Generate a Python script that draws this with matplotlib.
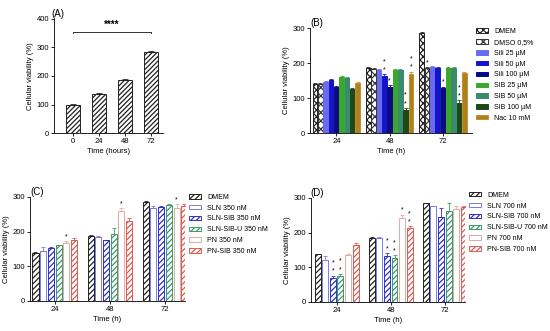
import numpy as np
import matplotlib.pyplot as plt

plt.rcParams['font.family'] = ['Liberation Sans', 'DejaVu Sans']
plt.rcParams['hatch.linewidth'] = 0.9
plt.rcParams['axes.linewidth'] = 0.6

# ---- data ----
a_times = ['0', '24', '48', '72']
a_vals = [100, 138, 187, 283]
a_err = [2, 2, 3, 3]

groups = ['24', '48', '72']

b_labels = ['DMEM', 'DMSO 0,5%', 'Sili 25 µM', 'Sili 50 µM', 'Sili 100 µM',
            'SIB 25 µM', 'SIB 50 µM', 'SIB 100 µM', 'Nac 10 mM']
b_vals = [[139, 139, 147, 151, 132, 161, 158, 127, 142],
          [187, 184, 179, 162, 131, 180, 180, 67, 169],
          [285, 186, 190, 185, 128, 187, 186, 86, 172]]
b_err = [[3, 3, 3, 4, 3, 3, 3, 2, 5],
         [3, 3, 5, 6, 6, 4, 3, 5, 7],
         [3, 3, 3, 3, 5, 3, 3, 8, 3]]
b_stars = [[0, 0, 0, 0, 0, 0, 0, 0, 0],
           [0, 0, 0, 2, 1, 0, 0, 2, 2],
           [0, 1, 0, 0, 1, 0, 0, 2, 0]]

nano_labels_c = ['DMEM', 'SLN 350 nM', 'SLN-SIB 350 nM', 'SLN-SIB-U 350 nM',
                 'PN 350 nM', 'PN-SIB 350 nM']
c_vals = [[138, 143, 152, 160, 167, 176],
          [187, 184, 175, 193, 260, 230],
          [284, 268, 272, 276, 267, 274]]
c_err = [[2, 12, 3, 2, 5, 5],
         [3, 2, 2, 18, 7, 8],
         [3, 7, 3, 4, 12, 5]]
c_stars = [[0, 0, 0, 0, 1, 0],
           [0, 0, 0, 0, 1, 0],
           [0, 0, 0, 0, 1, 0]]

nano_labels_d = ['DMEM', 'SLN 700 nM', 'SLN-SIB 700 nM', 'SLN-SIB-U 700 nM',
                 'PN 700 nM', 'PN-SIB 700 nM']
d_vals = [[137, 122, 70, 75, 135, 163],
          [185, 183, 132, 128, 243, 214],
          [284, 276, 246, 262, 267, 275]]
d_err = [[2, 9, 6, 6, 4, 6],
         [3, 3, 9, 7, 9, 5],
         [2, 2, 25, 24, 10, 3]]
d_stars = [[0, 0, 2, 2, 0, 0],
           [0, 0, 2, 2, 1, 2],
           [0, 0, 0, 0, 0, 0]]

# ---- styles ----
b_styles = [dict(fc='white', ec='#222222', hatch='xxxxx'),
            dict(fc='white', ec='#333333', hatch='xxxx'),
            dict(fc='#6b6bf2', ec='#6b6bf2', hatch=None),
            dict(fc='#1414c8', ec='#1414c8', hatch=None),
            dict(fc='#0a0a82', ec='#0a0a82', hatch=None),
            dict(fc='#3aa82a', ec='#3aa82a', hatch=None),
            dict(fc='#3a8a6e', ec='#3a8a6e', hatch=None),
            dict(fc='#1c481a', ec='#1c481a', hatch=None),
            dict(fc='#a8841e', ec='#d08a30', hatch=None)]

nano_styles = [dict(fc='white', ec='#222222', hatch='//////'),
               dict(fc='white', ec='#7a7ae6', hatch=None),
               dict(fc='white', ec='#3030c8', hatch='//////'),
               dict(fc='white', ec='#3a9a6a', hatch='//////'),
               dict(fc='white', ec='#e2aaa0', hatch=None),
               dict(fc='white', ec='#e05a50', hatch='//////')]

fig = plt.figure(figsize=(5.5, 3.31), dpi=100)
fs = 5.5
leg_kw = dict(loc='upper left', frameon=False, fontsize=5,
              handlelength=1.7, handleheight=0.6, labelspacing=0.55,
              borderaxespad=0.2, handletextpad=0.9)


def style_axes(ax):
    ax.spines['top'].set_visible(False)
    ax.spines['right'].set_visible(False)
    ax.tick_params(labelsize=fs, length=2, width=0.6, pad=1.5)


def grouped(ax, vals, errs, stars, styles, labels, step, width):
    n = len(styles)
    x = np.arange(len(groups))
    offs = (np.arange(n) - (n - 1) / 2) * step
    for i in range(n):
        st = styles[i]
        v = [row[i] for row in vals]
        e = [row[i] for row in errs]
        ax.bar(x + offs[i], v, width, color=st['fc'], edgecolor=st['ec'],
               hatch=st['hatch'], linewidth=0.7, label=labels[i])
        ax.errorbar(x + offs[i], v, yerr=[np.zeros(len(e)), e], fmt='none',
                    ecolor=st['ec'], elinewidth=0.6, capsize=1.2, capthick=0.6)
        for g in range(len(groups)):
            for k in range(stars[g][i]):
                ax.text(x[g] + offs[i], v[g] + e[g] + 2 + k * 24, '*',
                        ha='center', va='bottom', fontsize=5)
    ax.set_xticks(x)
    ax.set_xticklabels(groups)
    ax.set_ylabel('Cellular viability (%)', fontsize=fs, labelpad=2)
    ax.set_xlabel('Time (h)', fontsize=fs, labelpad=2)
    style_axes(ax)


# ---- panel A ----
axA = fig.add_axes([0.098, 0.598, 0.198, 0.345])
xa = np.arange(len(a_times))
axA.bar(xa, a_vals, 0.55, color='white', edgecolor='#222222', hatch='///////',
        linewidth=0.7)
axA.errorbar(xa, a_vals, yerr=[np.zeros(4), a_err], fmt='none', ecolor='#222222',
             elinewidth=0.6, capsize=2, capthick=0.6)
axA.plot([0, 3], [355, 355], color='#333333', lw=0.7)
axA.plot([0, 0], [350, 355], color='#333333', lw=0.7)
axA.plot([3, 3], [350, 355], color='#333333', lw=0.7)
axA.text(1.5, 360, '****', ha='center', va='bottom', fontsize=7, fontweight='bold')
axA.set_xlim(-0.73, 3.46)
axA.set_ylim(0, 400)
axA.set_yticks([0, 100, 200, 300, 400])
axA.set_xticks(xa)
axA.set_xticklabels(a_times)
axA.set_ylabel('Cellular viability (%)', fontsize=fs, labelpad=2)
axA.set_xlabel('Time (hours)', fontsize=fs, labelpad=2)
style_axes(axA)
axA.set_title('(A)', fontsize=7, loc='left', x=-0.02, pad=1)

# ---- panel B ----
axB = fig.add_axes([0.564, 0.598, 0.294, 0.317])
grouped(axB, b_vals, b_err, b_stars, b_styles, b_labels, 0.1, 0.085)
axB.set_xlim(-0.49, 2.54)
axB.set_ylim(0, 300)
axB.set_yticks([0, 100, 200, 300])
axB.set_title('(B)', fontsize=7, loc='left', x=0.0, pad=1)
axB.legend(bbox_to_anchor=(1.0, 1.04), **leg_kw)

# ---- panel C ----
axC = fig.add_axes([0.0545, 0.091, 0.2815, 0.314])
grouped(axC, c_vals, c_err, c_stars, nano_styles, nano_labels_c, 0.14, 0.11)
axC.set_xlim(-0.45, 2.36)
axC.set_ylim(0, 300)
axC.set_yticks([0, 100, 200, 300])
axC.set_title('(C)', fontsize=7, loc='left', x=0.0, pad=1)
axC.legend(bbox_to_anchor=(1.0, 1.07), **leg_kw)

# ---- panel D ----
axD = fig.add_axes([0.565, 0.088, 0.28, 0.314])
grouped(axD, d_vals, d_err, d_stars, nano_styles, nano_labels_d, 0.14, 0.11)
axD.set_xlim(-0.48, 2.37)
axD.set_ylim(0, 300)
axD.set_yticks([0, 100, 200, 300])
axD.set_title('(D)', fontsize=7, loc='left', x=0.0, pad=1)
axD.legend(bbox_to_anchor=(1.0, 1.1), **leg_kw)

plt.savefig('out.png', dpi=100)
